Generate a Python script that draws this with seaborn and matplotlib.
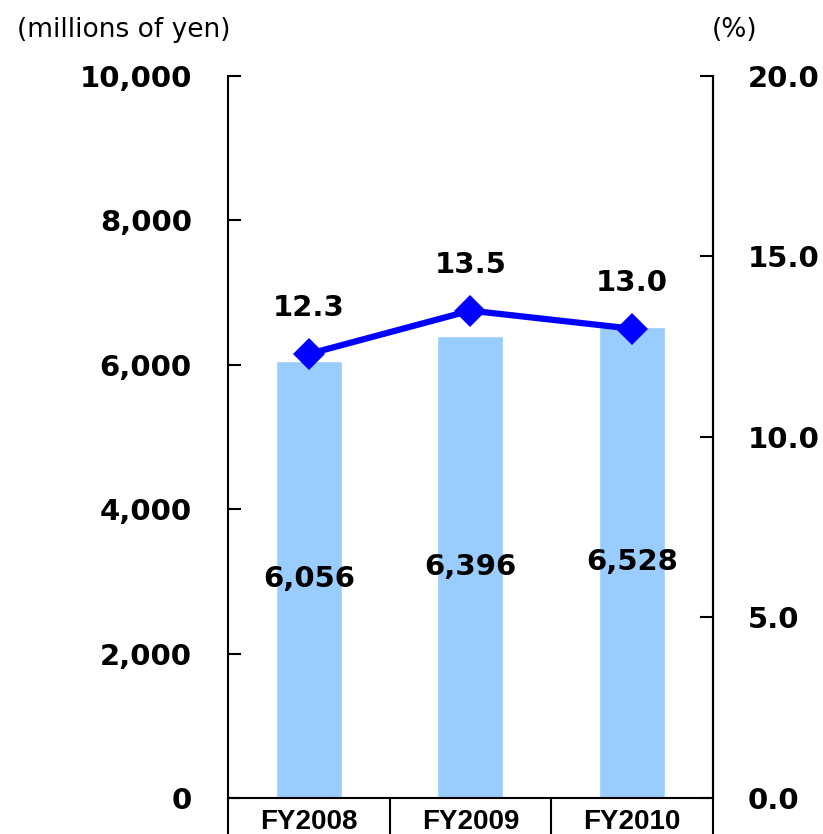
import matplotlib
matplotlib.use("Agg")
import matplotlib.pyplot as plt
import numpy as np
import pandas as pd
import seaborn as sns

# chart data
years = ["FY2008", "FY2009", "FY2010"]
sales = [6056, 6396, 6528]          # millions of yen (bars, left axis)
ratio = [12.3, 13.5, 13.0]          # % (line, right axis)
left_ticks = [0, 2000, 4000, 6000, 8000, 10000]
right_ticks = [0.0, 5.0, 10.0, 15.0, 20.0]

sns.set_style("white")
plt.rcParams['font.family'] = ['DejaVu Sans']
plt.rcParams['text.color'] = 'black'
plt.rcParams['xtick.color'] = 'black'
plt.rcParams['ytick.color'] = 'black'

num_font = dict(family="DejaVu Sans", weight="bold", size=21)

df = pd.DataFrame({"year": years, "sales": sales, "ratio": ratio})
df["pos"] = np.arange(len(years))

fig = plt.figure(figsize=(8.23, 8.34), dpi=100)
ax = fig.add_axes([0.277, 0.0432, 0.589, 0.8657])

sns.barplot(data=df, x="year", y="sales", color="#99CCFF", saturation=1,
            width=0.41, ax=ax)
ax.bar_label(ax.containers[0], labels=[f"{v:,}" for v in sales],
             label_type="center", fontfamily="DejaVu Sans", fontweight="bold", fontsize=21)

ax.set_xlim(-0.5, len(years) - 0.5)
ax.set_ylim(left_ticks[0], left_ticks[-1])
ax.set_yticks(left_ticks)
ax.set_yticklabels([f"{v:,}" for v in left_ticks], fontdict=num_font)
ax.set_xlabel("")
ax.set_ylabel("")

# category separators below the axis
ax.set_xticks(np.arange(len(years) + 1) - 0.5, minor=True)
ax.set_xticks(df["pos"])
ax.set_xticklabels(years, fontdict=dict(family="Liberation Sans", weight="bold", size=20))
ax.tick_params(axis="x", which="major", bottom=True, length=0, pad=8)
ax.tick_params(axis="x", which="minor", bottom=True, length=30, width=1.5,
               direction="out", color="black")
ax.tick_params(axis="y", left=True, direction="in", length=9.5, width=1.5, pad=26)

ax2 = ax.twinx()
sns.lineplot(data=df, x="pos", y="ratio", color="#0000FF", linewidth=4.5,
             marker="D", markersize=16, markeredgewidth=0, ax=ax2)
for x, v in zip(df["pos"], ratio):
    ax2.annotate(f"{v:.1f}", (x, v), xytext=(0, 33), textcoords="offset points",
                 ha="center", va="center", fontfamily="DejaVu Sans",
                 fontweight="bold", fontsize=21)
ax2.set_xlim(-0.5, len(years) - 0.5)
ax2.set_ylim(right_ticks[0], right_ticks[-1])
ax2.set_yticks(right_ticks)
ax2.set_yticklabels([f"{v:.1f}" for v in right_ticks], fontdict=num_font)
ax2.set_ylabel("")
ax2.tick_params(axis="y", right=True, direction="in", length=9.5, width=1.5, pad=25)

for a in (ax, ax2):
    a.spines["top"].set_visible(False)
    for s in ("left", "right", "bottom"):
        a.spines[s].set_color("black")
        a.spines[s].set_linewidth(1.5)
ax2.spines["left"].set_visible(False)
ax2.spines["bottom"].set_visible(False)

fig.text(0.021, 0.964, "(millions of yen)", fontsize=19, va="center", ha="left")
fig.text(0.865, 0.964, "(%)", fontsize=19, va="center", ha="left")

fig.savefig("out.png", dpi=100)
